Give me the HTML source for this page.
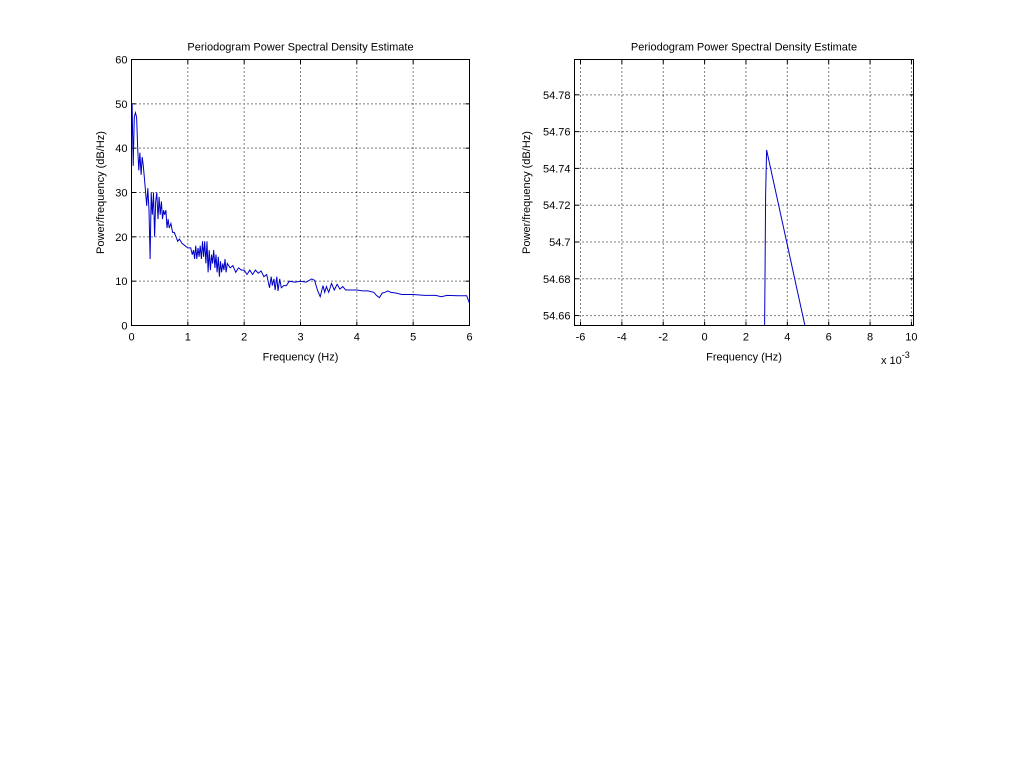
<!DOCTYPE html>
<html><head><meta charset="utf-8"><style>
html,body{margin:0;padding:0;background:#fff;}
svg{display:block;font-family:"Liberation Sans",sans-serif;}
</style></head><body>
<svg id="chart" width="1009" height="781">
<rect width="1009" height="781" fill="#fff"/>
<g id="p1"></g>
<g id="p2"></g>
</svg>
<script>
const leftFreq=[0,0.01,0.03,0.05,0.07,0.09,0.11,0.13,0.15,0.17,0.19,0.21,0.23,0.25,0.27,0.29,0.31,0.33,0.35,0.37,0.39,0.41,0.43,0.45,0.47,0.49,0.51,0.53,0.55,0.57,0.59,0.61,0.63,0.65,0.67,0.70,0.73,0.76,0.79,0.82,0.85,0.9,0.95,1.0,1.05,1.08,1.1,1.12,1.14,1.16,1.18,1.2,1.22,1.24,1.26,1.28,1.30,1.32,1.34,1.36,1.38,1.40,1.42,1.44,1.46,1.48,1.5,1.52,1.54,1.56,1.58,1.6,1.62,1.64,1.66,1.68,1.7,1.75,1.8,1.85,1.9,1.95,2.0,2.05,2.1,2.15,2.2,2.25,2.3,2.35,2.4,2.45,2.48,2.5,2.53,2.55,2.58,2.6,2.63,2.66,2.7,2.75,2.8,2.9,3.0,3.1,3.2,3.25,3.3,3.35,3.4,3.43,3.46,3.5,3.55,3.6,3.65,3.7,3.75,3.8,3.9,4.0,4.1,4.2,4.3,4.35,4.4,4.45,4.5,4.55,4.6,4.7,4.8,5.0,5.2,5.4,5.5,5.6,5.8,5.95,6.0];
const leftPower=[42,50,36,47,48,47,40,35,39,34,38,36,33,30,27,31,26,15,30,25,30,20,28,30,24,29,25,28,24,26,25,26,22,24,22,23,21,21,20,19,19.5,18.5,18,17.5,17.5,16,17,15,18,15,17.5,15.5,18,15,19,15.5,19,14,19,12,17,12.5,16,14,17,13,16,12,15.5,11,14.5,12,14,12.5,15,12,14,13,13.5,12,13,12.5,12.5,11.5,12.5,11.5,12.5,11.8,12.3,11,11.5,8.5,11,9,10.5,8,11,7.8,10.5,8.5,9,9,10,9.8,10,9.8,10.5,10.2,8,6.5,9,7.5,8.8,7.5,9.5,8,9.3,8.2,8.8,8,8,8,7.8,7.8,7.5,6.8,6.3,7.3,7.5,7.8,7.5,7.3,7,7,6.8,6.8,6.5,6.8,6.7,6.7,5];
const leftXTicks=[0,1,2,3,4,5,6];
const leftYTicks=[0,10,20,30,40,50,60];
const rightFreq=[2.9,2.92,2.95,3.0,4.85];
const rightPower=[54.6546,54.68,54.725,54.75,54.6546];
const rightXTicks=[-6,-4,-2,0,2,4,6,8,10];
const rightYTicks=[54.66,54.68,54.7,54.72,54.74,54.76,54.78];

const NS="http://www.w3.org/2000/svg";
function mk(parent,tag,attrs,text){const e=document.createElementNS(NS,tag);for(const k in attrs)e.setAttribute(k,attrs[k]);if(text!==undefined)e.textContent=text;parent.appendChild(e);return e;}

function drawPlot(g,box,xd,yd,xt,yt,xs,ys,fmtY){
  const sx=v=>box.x0+(v-xd[0])/(xd[1]-xd[0])*(box.x1-box.x0);
  const sy=v=>box.y1-(v-yd[0])/(yd[1]-yd[0])*(box.y1-box.y0);
  mk(g,'rect',{x:box.x0,y:box.y0,width:box.x1-box.x0,height:box.y1-box.y0,fill:'#fff'});
  xt.forEach(t=>{const x=sx(t);
    const gl=mk(g,'line',{x1:x,x2:x,y1:box.y0,y2:box.y1,stroke:'#000','stroke-width':1,'stroke-dasharray':'1,3'});
    
    mk(g,'line',{x1:x,x2:x,y1:box.y1,y2:box.y1-4,stroke:'#000'});
    mk(g,'line',{x1:x,x2:x,y1:box.y0,y2:box.y0+4,stroke:'#000'});
    const tl=mk(g,'text',{x:x,y:box.y1+15,'font-size':11,'text-anchor':'middle'},String(t));
    
  });
  yt.forEach(t=>{const y=sy(t);
    const gl=mk(g,'line',{x1:box.x0,x2:box.x1,y1:y,y2:y,stroke:'#000','stroke-width':1,'stroke-dasharray':'1,3'});
    
    mk(g,'line',{x1:box.x0,x2:box.x0+4,y1:y,y2:y,stroke:'#000'});
    mk(g,'line',{x1:box.x1,x2:box.x1-4,y1:y,y2:y,stroke:'#000'});
    const tl=mk(g,'text',{x:box.x0-4,y:y+4,'font-size':11,'text-anchor':'end'},fmtY(t));
    
  });
  const pts=xs.map((v,i)=>sx(v).toFixed(1)+','+sy(ys[i]).toFixed(1)).join(' ');
  const clipId='c'+Math.round(box.x0);
  const cp=mk(g,'clipPath',{id:clipId});mk(cp,'rect',{x:box.x0,y:box.y0,width:box.x1-box.x0,height:box.y1-box.y0});
  const pl=mk(g,'polyline',{points:pts,fill:'none',stroke:'#0000c8','stroke-width':1,'clip-path':'url(#'+clipId+')'});
  
  const fr=mk(g,'rect',{x:box.x0,y:box.y0,width:box.x1-box.x0,height:box.y1-box.y0,fill:'none',stroke:'#000'});
  
  const ti=mk(g,'text',{x:(box.x0+box.x1)/2,y:box.y0-9,'font-size':11,'text-anchor':'middle'},'Periodogram Power Spectral Density Estimate');
  
  const xl=mk(g,'text',{x:(box.x0+box.x1)/2,y:box.y1+35,'font-size':11,'text-anchor':'middle'},'Frequency (Hz)');
  
  const yx=box.ylx,yy=(box.y0+box.y1)/2;
  const yl=mk(g,'text',{x:yx,y:yy,'font-size':11,'text-anchor':'middle',transform:'rotate(-90 '+yx+' '+yy+')'},'Power/frequency (dB/Hz)');
  
}
drawPlot(document.getElementById('p1'),{x0:131.5,x1:469.5,y0:59.5,y1:325.5,ylx:104},[0,6],[0,60],leftXTicks,leftYTicks,leftFreq,leftPower,v=>String(v));
drawPlot(document.getElementById('p2'),{x0:574.5,x1:913.5,y0:59.5,y1:325.5,ylx:530},[-6.29,10.1],[54.6546,54.7992],rightXTicks,rightYTicks,rightFreq,rightPower,v=>String(+v.toFixed(2)));
const g2=document.getElementById('p2');
const ex=mk(g2,'text',{x:881,y:364,'font-size':11},'x 10');

mk(ex,'tspan',{dy:-6,'font-size':9},'-3');
</script>
</body></html>
